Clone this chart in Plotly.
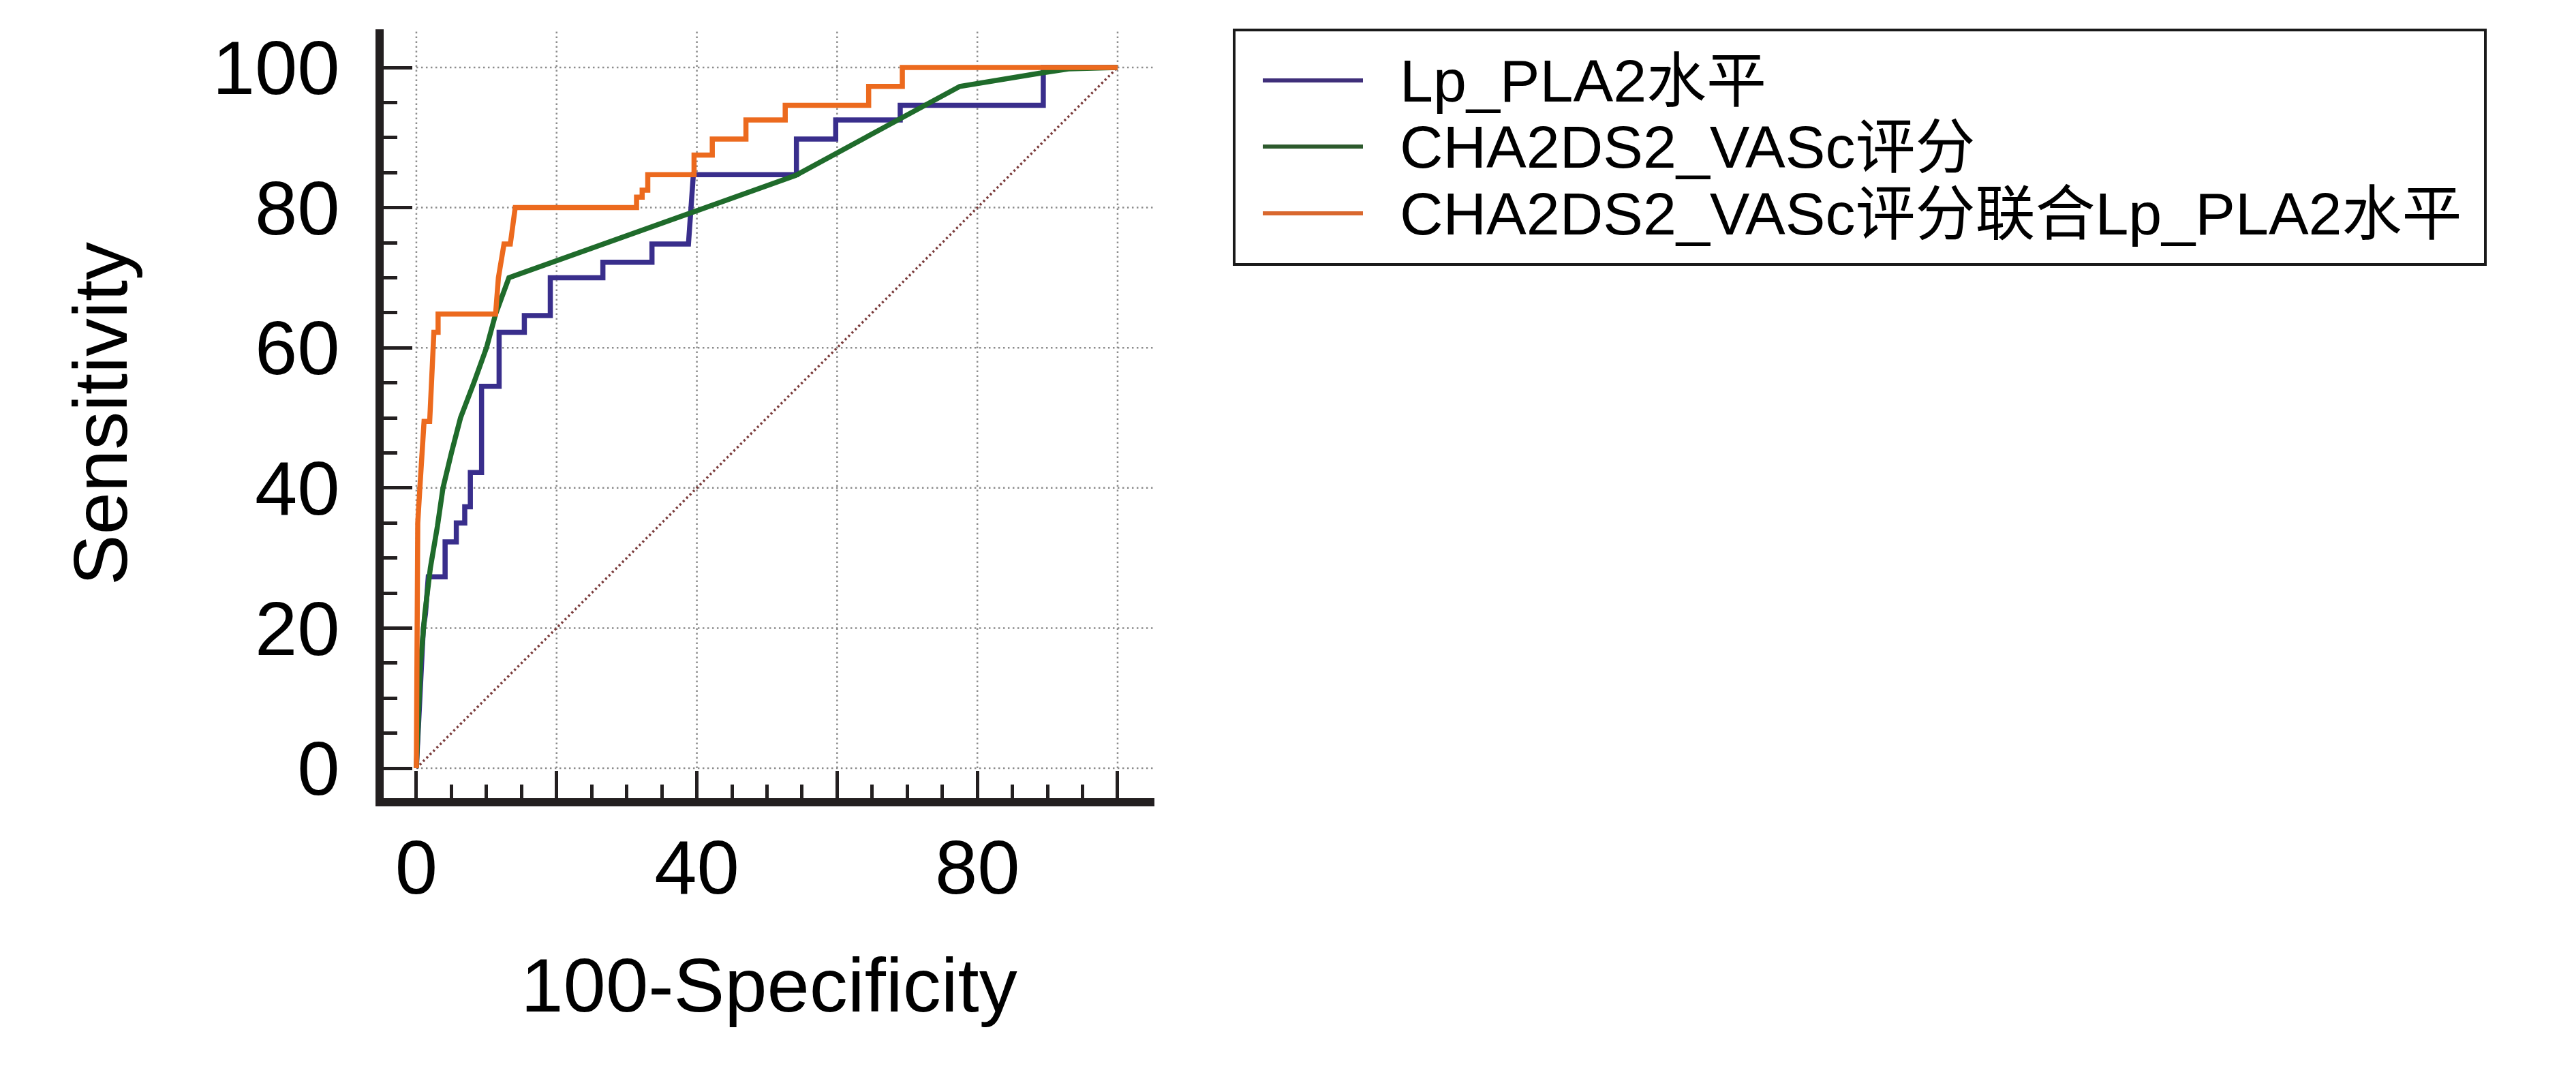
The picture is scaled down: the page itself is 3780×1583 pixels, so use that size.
import plotly.graph_objects as go

# ---------------- data ----------------
series_names = ["Lp_PLA2水平", "CHA2DS2_VASc评分", "CHA2DS2_VASc评分联合Lp_PLA2水平"]

lp_x = [0, 0.4, 0.7, 1.0, 1.0, 1.3, 1.5, 1.7, 4.1, 4.1, 5.7, 5.7, 6.9, 6.9, 7.7, 7.7, 9.3, 9.3,
        11.8, 11.8, 15.4, 15.4, 19.1, 19.1, 26.6, 26.6, 33.6, 33.6, 38.8, 39.5, 54.2, 54.2,
        59.8, 59.8, 69.0, 69.0, 89.4, 89.4, 100]
lp_y = [0, 8, 14, 18, 20, 22, 24, 27.3, 27.3, 32.3, 32.3, 35.0, 35.0, 37.3, 37.3, 42.2, 42.2, 54.5,
        54.5, 62.2, 62.2, 64.6, 64.6, 70.0, 70.0, 72.2, 72.2, 74.8, 74.8, 84.7, 84.7, 89.8,
        89.8, 92.5, 92.5, 94.6, 94.6, 100, 100]

cha_x = [0, 0.3, 0.6, 1.2, 2.0, 3.0, 3.8, 5.0, 6.3, 8.2, 10.0, 11.3, 12.3, 13.2, 54.1, 77.5, 89.0, 93.0, 100]
cha_y = [0, 8, 15, 22, 28.6, 34.5, 40, 45, 50, 55, 60, 64.8, 67.6, 70, 84.6, 97.3, 99.2, 99.8, 100]

comb_x = [0, 0.1, 0.2, 0.2, 0.5, 0.8, 1.1, 1.9, 2.2, 2.4, 2.5, 2.5, 3.1, 3.1, 11.3, 11.7, 12.5, 13.4,
          14.1, 31.4, 31.4, 32.2, 32.2, 33.0, 33.0, 39.6, 39.6, 42.2, 42.2, 47.0, 47.0, 52.6,
          52.6, 64.5, 64.5, 69.3, 69.3, 100]
comb_y = [0, 15, 25, 35, 40, 45, 49.5, 49.5, 55, 57.4, 60, 62.2, 62.2, 64.8, 64.8, 70, 74.8, 74.8,
          80, 80, 81.5, 81.5, 82.5, 82.5, 84.7, 84.7, 87.5, 87.5, 89.8, 89.8, 92.5, 92.5,
          94.6, 94.6, 97.3, 97.3, 100, 100]

diag_x = [0, 100]
diag_y = [0, 100]

x_tick_vals = [0, 20, 40, 60, 80, 100]
x_tick_text = ["0", "", "40", "", "80", ""]
y_tick_vals = [0, 20, 40, 60, 80, 100]
y_tick_text = ["0", "20", "40", "60", "80", "100"]
minor_vals = [5, 10, 15, 25, 30, 35, 45, 50, 55, 65, 70, 75, 85, 90, 95]

# ---------------- style ----------------
OFF = 8  # default page body margin
W, H = 3780 - OFF, 1583 - OFF
ML, MR, MT, MB = 563 - OFF, 2086, 43 - OFF, 412
x_range = [-4.66, 105.25]
y_range = [-4.28, 105.45]
curve_colors = ["#392E8C", "#1F6B2B", "#EC6A1E"]
legend_colors = ["#3F2F7A", "#2D5A2D", "#D9682E"]
FONT = "Liberation Sans, Arial, Noto Sans CJK SC, sans-serif"
AXC = "#231F20"
GRID = dict(color="#8C8C8C", width=2.5, dash="2.5px,4.5px")

fig = go.Figure()

fig.add_trace(go.Scatter(x=diag_x, y=diag_y, mode="lines",
                         line=dict(color="#7A3B3B", width=3.5, dash="3px,4px"),
                         showlegend=False, hoverinfo="skip"))
for xs, ys, c, n in zip([lp_x, cha_x, comb_x], [lp_y, cha_y, comb_y], curve_colors, series_names):
    fig.add_trace(go.Scatter(x=xs, y=ys, mode="lines", name=n,
                             line=dict(color=c, width=7.5), showlegend=False))

shapes = []
for v in x_tick_vals:
    shapes.append(dict(type="line", xref="x", yref="y", x0=v, x1=v, y0=0, y1=y_range[1],
                       line=GRID, layer="below"))
for v in y_tick_vals:
    shapes.append(dict(type="line", xref="x", yref="y", x0=0, x1=x_range[1], y0=v, y1=v,
                       line=GRID, layer="below"))

# manual legend (page pixel layout -> paper coords)
pw, ph = W - ML - MR, H - MT - MB
def px(xp):
    return (xp - OFF - ML) / pw
def py(yp):
    return (H - MB - (yp - OFF)) / ph

shapes.append(dict(type="rect", xref="paper", yref="paper",
                   x0=px(1811), x1=px(3647), y0=py(388), y1=py(44),
                   line=dict(color="#1A1A1A", width=4), fillcolor="white"))
annotations = []
row_y = [118, 215, 313]
for ry, c, n in zip(row_y, legend_colors, series_names):
    shapes.append(dict(type="line", xref="paper", yref="paper",
                       x0=px(1853), x1=px(2000), y0=py(ry), y1=py(ry),
                       line=dict(color=c, width=6)))
    annotations.append(dict(xref="paper", yref="paper", x=px(2052), y=py(ry),
                            xanchor="left", yanchor="middle", showarrow=False, text=n,
                            font=dict(family=FONT, size=88, color="black")))

fig.update_layout(
    width=W, height=H,
    margin=dict(l=ML, r=MR, t=MT, b=MB, pad=0),
    paper_bgcolor="white", plot_bgcolor="white",
    font=dict(family=FONT, color="black"),
    shapes=shapes, annotations=annotations,
    showlegend=False,
)
fig.update_xaxes(
    range=x_range, showgrid=False, zeroline=False,
    showline=True, linecolor=AXC, linewidth=12,
    tickmode="array", tickvals=x_tick_vals, ticktext=x_tick_text,
    ticks="inside", ticklen=40, tickwidth=5, tickcolor=AXC,
    tickfont=dict(family=FONT, size=112, color="black"),
    ticklabelstandoff=-6,
    minor=dict(tickmode="array", tickvals=minor_vals, ticks="inside", ticklen=20,
               tickwidth=5, tickcolor=AXC, showgrid=False),
    title=dict(text="100-Specificity", font=dict(family=FONT, size=112, color="black"), standoff=76),
)
fig.update_yaxes(
    range=y_range, showgrid=False, zeroline=False,
    showline=True, linecolor=AXC, linewidth=12,
    tickmode="array", tickvals=y_tick_vals, ticktext=y_tick_text,
    ticks="inside", ticklen=42, tickwidth=5, tickcolor=AXC,
    tickfont=dict(family=FONT, size=112, color="black"),
    ticklabelstandoff=30,
    minor=dict(tickmode="array", tickvals=minor_vals, ticks="inside", ticklen=20,
               tickwidth=5, tickcolor=AXC, showgrid=False),
    title=dict(text="Sensitivity", font=dict(family=FONT, size=112, color="black"), standoff=93),
)

fig.write_html("out.html")
